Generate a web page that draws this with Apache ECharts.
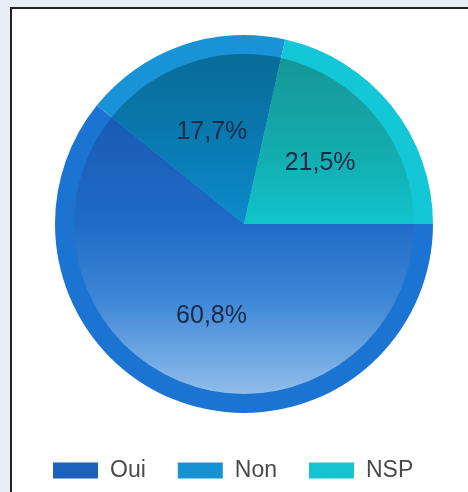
<!DOCTYPE html>
<html>
<head>
<meta charset="utf-8">
<script src="https://cdn.jsdelivr.net/npm/echarts@6/dist/echarts.min.js"></script>
<style>
  html, body { margin: 0; padding: 0; width: 468px; height: 492px; background: #e9eef6; overflow: hidden; }
  #frame { position: absolute; left: 10px; top: 7px; width: 470px; height: 500px; background: #ffffff;
           border-left: 2px solid #1e2424; border-top: 2px solid #1e2424; }
  #chart { position: absolute; left: 0; top: 0; width: 468px; height: 492px; }
</style>
</head>
<body>
<div id="frame"></div>
<div id="chart"></div>
<script>
const categories = ['Oui', 'Non', 'NSP'];
const values = [60.8, 17.7, 21.5];

const rimColors = ['#1b73d2', '#1893d8', '#13c7d6'];
const legendColors = ['#1a62bc', '#1592d2', '#14c4d0'];
const innerStops = [
  [[0, '#1552a8'], [0.5, '#1f6bc8'], [0.72, '#3d86d6'], [1, '#90bdea']],
  [[0, '#086c98'], [0.3, '#0a7cb6'], [0.5, '#0c8ccc'], [1, '#0c8ccc']],
  [[0, '#169696'], [0.3, '#13adb0'], [0.5, '#10c4cc'], [1, '#10c4cc']]
];

const cx = 244, cy = 224, R = 189, r = 170;

function grad(stops) {
  return {
    type: 'linear', x: 0, y: cy - r, x2: 0, y2: cy + r, global: true,
    colorStops: stops.map(s => ({ offset: s[0], color: s[1] }))
  };
}

const chart = echarts.init(document.getElementById('chart'), null, { renderer: 'canvas' });
chart.setOption({
  animation: false,
  backgroundColor: 'transparent',
  legend: {
    left: 48,
    top: 454,
    itemWidth: 45,
    itemHeight: 16,
    itemGap: 32,
    icon: 'rect',
    selectedMode: false,
    textStyle: { fontFamily: 'Liberation Sans', fontSize: 23, color: '#4a4a4a', lineHeight: 22, padding: [0, 0, 0, 7] },
    data: categories.map((c, i) => ({ name: c, itemStyle: { color: legendColors[i] } }))
  },
  series: [
    {
      type: 'pie', center: [cx, cy], radius: [0, R], startAngle: 0, clockwise: true,
      silent: true, z: 1, label: { show: false }, labelLine: { show: false },
      itemStyle: { borderWidth: 0 },
      data: categories.map((c, i) => ({ name: c, value: values[i], itemStyle: { color: rimColors[i] } }))
    },
    {
      type: 'pie', center: [cx, cy], radius: [0, r], startAngle: 0, clockwise: true,
      silent: true, z: 2, label: { show: false }, labelLine: { show: false },
      itemStyle: { borderWidth: 0 },
      data: categories.map((c, i) => ({ name: c, value: values[i], itemStyle: { color: grad(innerStops[i]) } }))
    },
    {
      type: 'pie', center: [cx, cy], radius: [0, R], startAngle: 0, clockwise: true,
      silent: true, z: 3, labelLine: { show: false },
      itemStyle: { color: 'rgba(0,0,0,0)', borderWidth: 0 },
      label: {
        show: true, position: 'inside',
        fontFamily: 'Liberation Sans', fontSize: 25, color: '#172a48',
        formatter: p => p.value.toFixed(1).replace('.', ',') + '%'
      },
      data: categories.map((c, i) => ({ name: c, value: values[i] }))
    }
  ]
});
</script>
</body>
</html>
